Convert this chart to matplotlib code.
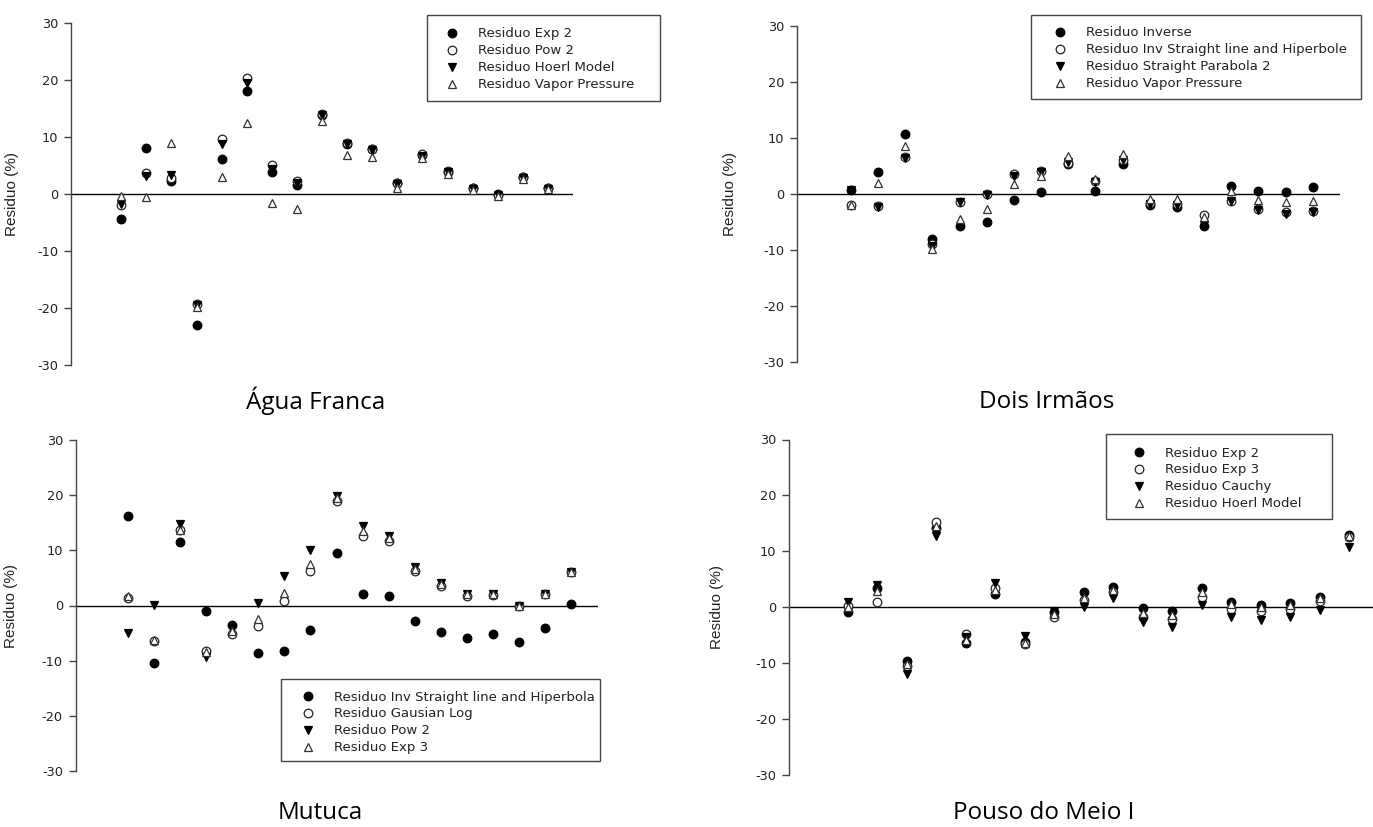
import matplotlib
matplotlib.use("Agg")
import matplotlib.pyplot as plt
from matplotlib.patches import Rectangle

W, H = 1373, 827

x = list(range(1, 19))

# Agua Franca
af_exp2 = [-4.4, 8.1, 2.3, -22.9, 6.1, 18.1, 3.9, 1.6, 13.9, 8.8, 7.9, 1.9, 6.9, 3.9, 1.0, 0.0, 3.0, 1.0]
af_pow2 = [-1.9, 3.7, 2.8, -19.3, 9.7, 20.3, 5.1, 2.2, 14.0, 8.9, 7.9, 2.0, 7.0, 4.0, 1.0, -0.1, 2.9, 1.0]
af_hoerl = [-1.7, 3.1, 3.4, -19.5, 8.8, 19.4, 4.4, 1.9, 13.8, 8.7, 7.8, 1.7, 6.7, 3.8, 0.9, -0.2, 2.8, 0.8]
af_vapor = [-0.3, -0.5, 8.9, -19.8, 3.0, 12.5, -1.5, -2.6, 12.8, 6.8, 6.5, 1.1, 6.3, 3.5, 0.7, -0.3, 2.7, 0.8]

# Dois Irmaos
di_inverse = [0.8, 4.0, 10.8, -8.1, -5.8, -5.0, -1.0, 0.3, 5.4, 0.5, 5.4, -2.0, -2.3, -5.8, 1.4, 0.5, 0.4, 1.3]
di_invslh = [-2.0, -2.2, 6.6, -9.0, -1.4, 0.0, 3.6, 4.1, 5.6, 2.3, 6.0, -1.6, -1.7, -3.8, -1.2, -2.7, -3.3, -3.0]
di_sp2 = [0.7, -2.3, 6.5, -9.3, -1.5, -0.1, 3.3, 4.0, 5.8, 2.2, 6.0, -1.8, -2.0, -5.5, -1.3, -2.9, -3.5, -3.2]
di_vapor = [-1.9, 2.0, 8.5, -9.9, -4.4, -2.6, 1.8, 3.2, 6.8, 2.6, 7.2, -0.9, -0.9, -4.1, 0.6, -1.0, -1.5, -1.2]

# Mutuca
mu_invslh = [16.3, -10.4, 11.6, -1.0, -3.6, -8.7, -8.2, -4.5, 9.5, 2.0, 1.8, -2.9, -4.8, -5.9, -5.2, -6.6, -4.1, 0.3]
mu_gauslog = [1.3, -6.4, 13.7, -8.2, -5.2, -3.7, 0.8, 6.2, 19.0, 12.6, 11.7, 6.3, 3.6, 1.8, 1.9, -0.1, 2.0, 6.0]
mu_pow2 = [-4.9, 0.1, 14.8, -9.3, -4.3, 0.4, 5.4, 10.1, 19.8, 14.5, 12.6, 6.9, 4.0, 2.0, 2.0, 0.0, 2.1, 6.1]
mu_exp3 = [1.7, -6.3, 13.6, -8.4, -4.6, -2.5, 2.3, 7.6, 19.5, 13.5, 12.3, 6.7, 3.9, 2.0, 2.0, 0.0, 2.1, 6.0]

# Pouso do Meio I
pm_exp2 = [-0.9, 3.5, -9.7, 14.2, -6.4, 2.4, -6.3, -0.8, 2.7, 3.7, -0.2, -0.7, 3.4, 1.0, 0.4, 0.7, 1.9, 12.9]
pm_exp3 = [0.3, 1.0, -10.5, 15.3, -4.8, 3.4, -6.5, -1.7, 1.3, 2.8, -1.7, -2.1, 1.9, -0.3, -0.7, -0.3, 1.1, 12.6]
pm_cauchy = [0.9, 3.9, -11.9, 12.7, -5.4, 4.3, -5.1, -0.7, 0.0, 1.7, -2.6, -3.5, 0.4, -1.8, -2.3, -1.8, -0.5, 10.8]
pm_hoerl = [0.0, 2.9, -10.2, 14.5, -5.8, 3.1, -6.4, -1.2, 1.7, 3.0, -1.0, -1.4, 2.7, 0.6, 0.1, 0.4, 1.6, 12.8]

yticks = [-30, -20, -10, 0, 10, 20, 30]

plt.rcParams['font.family'] = ['DejaVu Sans']
plt.rcParams['axes.unicode_minus'] = False

fig = plt.figure(figsize=(W / 100, H / 100), dpi=100)

styles = [
    dict(marker='o', mfc='black', mec='black'),
    dict(marker='o', mfc='white', mec='#222222'),
    dict(marker='v', mfc='black', mec='black'),
    dict(marker='^', mfc='white', mec='#333333'),
]

LEG_FS = 9.5
ROW = 16.9


def px_box(x0, x1, ytop, ybot):
    return [x0 / W, 1 - ybot / H, (x1 - x0) / W, (ybot - ytop) / H]


def make_legend(ax, spacing, ax_x, ax_y):
    return ax.legend(loc='upper left', frameon=False, fontsize=LEG_FS, handlelength=1.0,
                     handletextpad=1.45, labelspacing=spacing, borderpad=0, borderaxespad=0,
                     bbox_to_anchor=(ax_x / W, 1 - ax_y / H),
                     bbox_transform=fig.transFigure, labelcolor='#222222')


def panel(rect, series, labels, ylabel_px, box, text_px, row1_px, title, title_px):
    ax = fig.add_axes(px_box(*rect))
    for vals, lab, st in zip(series, labels, styles):
        ax.plot(x, vals, linestyle='none', markersize=6.2, markeredgewidth=0.9,
                label=lab, **st)
    ax.axhline(0, color='black', linewidth=1.0, zorder=0)
    ax.set_xlim(-1, 19)
    ax.set_ylim(-30, 30)
    for s in ['top', 'right', 'bottom']:
        ax.spines[s].set_visible(False)
    ax.spines['left'].set_color('#444444')
    ax.spines['left'].set_linewidth(1.0)
    ax.set_xticks([])
    ax.set_yticks(yticks)
    ax.tick_params(axis='y', length=5, width=1.0, color='#444444', labelsize=9.3,
                   pad=4, labelcolor='#222222')
    ax.set_ylabel('Residuo (%)', fontsize=11, color='#222222', family='Liberation Sans')
    x0 = rect[0]
    ax.yaxis.set_label_coords((ylabel_px - x0) / (rect[1] - x0), 0.5)

    # legend frame
    bx0, bx1, by0, by1 = box
    fig.patches.append(Rectangle((bx0 / W, 1 - by1 / H), (bx1 - bx0) / W, (by1 - by0) / H,
                                 transform=fig.transFigure, fill=False,
                                 edgecolor='#444444', linewidth=1.0))

    # legend: place, measure, then correct spacing and offset
    spacing = 0.3
    lx, ly = text_px - 40, row1_px - 8
    leg = make_legend(ax, spacing, lx, ly)
    for _ in range(3):
        fig.canvas.draw()
        r = fig.canvas.get_renderer()
        exts = [t.get_window_extent(r) for t in leg.get_texts()]
        cy = [H - (e.y0 + e.y1) / 2 for e in exts]
        obs = (cy[-1] - cy[0]) / 3
        spacing += (ROW - obs) / (LEG_FS * 100 / 72)
        lx += text_px - exts[0].x0
        ly += row1_px - cy[0]
        leg.remove()
        leg = make_legend(ax, spacing, lx, ly)

    fig.text(title_px[0] / W, 1 - title_px[1] / H, title, ha='center', va='center',
             fontsize=17.5, family='Open Sans', color='black')
    return ax


panel((71, 573, 23, 365), [af_exp2, af_pow2, af_hoerl, af_vapor],
      ['Residuo Exp 2', 'Residuo Pow 2', 'Residuo Hoerl Model', 'Residuo Vapor Pressure'],
      19, (427, 660, 15, 101), 478, 34, 'Água Franca', (316, 401))

panel((796.6, 1340, 26, 362), [di_inverse, di_invslh, di_sp2, di_vapor],
      ['Residuo Inverse', 'Residuo Inv Straight line and Hiperbole',
       'Residuo Straight Parabola 2', 'Residuo Vapor Pressure'],
      737, (1031, 1361, 15, 99), 1086, 33, 'Dois Irmãos', (1047, 402))

panel((75.5, 597.5, 440, 771), [mu_invslh, mu_gauslog, mu_pow2, mu_exp3],
      ['Residuo Inv Straight line and Hiperbola', 'Residuo Gausian Log',
       'Residuo Pow 2', 'Residuo Exp 3'],
      18, (281, 600, 679, 761), 334, 697, 'Mutuca', (320, 813))

panel((789, 1379, 439.5, 775), [pm_exp2, pm_exp3, pm_cauchy, pm_hoerl],
      ['Residuo Exp 2', 'Residuo Exp 3', 'Residuo Cauchy', 'Residuo Hoerl Model'],
      724, (1106, 1332, 434, 519), 1165, 453, 'Pouso do Meio I', (1044, 813))

fig.savefig('out.png', dpi=100)
